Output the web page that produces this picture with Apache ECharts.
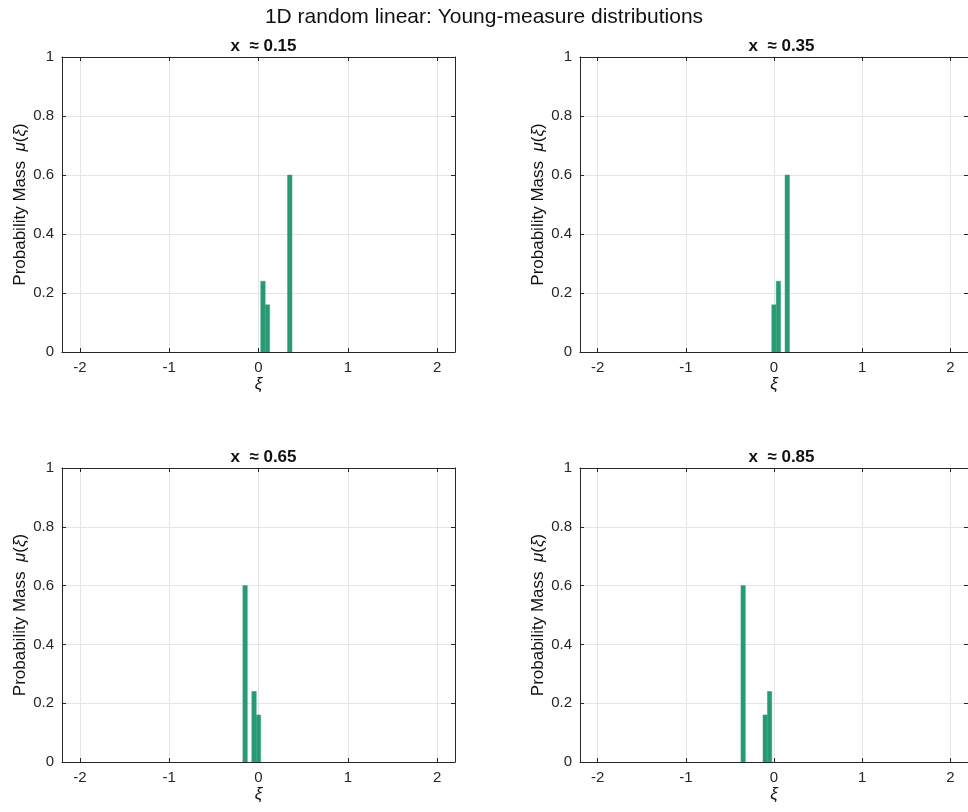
<!DOCTYPE html>
<html>
<head>
<meta charset="utf-8">
<title>Young-measure distributions</title>
<script src="https://cdn.jsdelivr.net/npm/echarts@6/dist/echarts.min.js"></script>
<style>
  html, body { margin: 0; padding: 0; background: #fff; }
  #main { width: 968px; height: 812px; }
</style>
</head>
<body>
<div id="main"></div>
<script>
'use strict';
// panel titles (x position of each slice)
var panelTitles = ['x  \u2248 0.15', 'x  \u2248 0.35', 'x  \u2248 0.65', 'x  \u2248 0.85'];
// bin centres (xi) and probability mass for each panel, bin width 0.05
var xi1 = [0.05, 0.10, 0.35];
var mass1 = [0.24, 0.16, 0.60];
var xi2 = [0.00, 0.05, 0.15];
var mass2 = [0.16, 0.24, 0.60];
var xi3 = [-0.15, -0.05, 0.00];
var mass3 = [0.60, 0.24, 0.16];
var xi4 = [-0.35, -0.10, -0.05];
var mass4 = [0.60, 0.16, 0.24];
var xTicks = [-2, -1, 0, 1, 2];
var binWidth = 0.05;
var xMin = -2.2, xMax = 2.2;

var panels = [[xi1, mass1], [xi2, mass2], [xi3, mass3], [xi4, mass4]];
var gridPos = [
    {left: 62, top: 57, width: 393, height: 295},
    {left: 580, top: 57, width: 393, height: 295},
    {left: 62, top: 468, width: 393, height: 294},
    {left: 580, top: 468, width: 393, height: 294}
];

var axisColor = '#262626';
var font = 'Liberation Sans, Arial, Helvetica, sans-serif';

var grids = [], xAxes = [], yAxes = [], series = [], titles = [];

titles.push({
    text: '1D random linear: Young-measure distributions',
    left: 'center', top: 2,
    textStyle: {fontFamily: font, fontSize: 21, fontWeight: 'normal', color: '#111'}
});

function renderBar(params, api) {
    var p0 = api.coord([api.value(0) - binWidth / 2, api.value(1)]);
    var p1 = api.coord([api.value(0) + binWidth / 2, 0]);
    return {
        type: 'rect',
        shape: {x: p0[0], y: p0[1], width: p1[0] - p0[0], height: p1[1] - p0[1]},
        style: {fill: '#279A73', stroke: '#3aa582', lineWidth: 0.5}
    };
}

panels.forEach(function (pn, i) {
    var g = gridPos[i];
    grids.push({left: g.left, top: g.top, width: g.width, height: g.height, show: false});
    titles.push({
        text: panelTitles[i],
        left: g.left + g.width / 2, top: g.top - 24, textAlign: 'center',
        textStyle: {fontFamily: font, fontSize: 17, fontWeight: 'bold', color: '#111'}
    });
    var lineStyle = {color: axisColor, width: 1};
    // bottom x axis
    xAxes.push({
        type: 'value', gridIndex: i, min: xMin, max: xMax, position: 'bottom',
        name: '{i|\u03be}', nameLocation: 'middle', nameGap: 18,
        nameTextStyle: {rich: {i: {fontFamily: font, fontSize: 17, fontStyle: 'italic', color: '#111'}}},
        axisLine: {lineStyle: lineStyle, onZero: false},
        axisTick: {inside: true, length: 4, lineStyle: lineStyle, customValues: xTicks},
        axisLabel: {fontFamily: font, fontSize: 15, color: axisColor, margin: 8, customValues: xTicks},
        splitLine: {show: true, lineStyle: {color: '#e5e5e5', width: 1}, customValues: xTicks}
    });
    // top x axis (box)
    xAxes.push({
        type: 'value', gridIndex: i, min: xMin, max: xMax, position: 'top',
        axisLine: {lineStyle: lineStyle, onZero: false},
        axisTick: {inside: true, length: 4, lineStyle: lineStyle, customValues: xTicks},
        axisLabel: {show: false, customValues: xTicks}, splitLine: {show: false}
    });
    yAxes.push({
        type: 'value', gridIndex: i, min: 0, max: 1, interval: 0.2, position: 'left',
        name: '{n|Probability Mass  }{i|\u03bc}{n|(}{i|\u03be}{n|)}',
        nameLocation: 'middle', nameGap: 32, nameRotate: 90,
        nameTextStyle: {rich: {
            n: {fontFamily: font, fontSize: 17, color: '#111'},
            i: {fontFamily: font, fontSize: 17, fontStyle: 'italic', color: '#111'}
        }},
        axisLine: {show: true, lineStyle: lineStyle, onZero: false},
        axisTick: {show: true, inside: true, length: 4, lineStyle: lineStyle},
        axisLabel: {fontFamily: font, fontSize: 15, color: axisColor, margin: 8},
        splitLine: {show: true, lineStyle: {color: '#e5e5e5', width: 1}}
    });
    yAxes.push({
        type: 'value', gridIndex: i, min: 0, max: 1, interval: 0.2, position: 'right',
        axisLine: {show: true, lineStyle: lineStyle, onZero: false},
        axisTick: {show: true, inside: true, length: 4, lineStyle: lineStyle},
        axisLabel: {show: false}, splitLine: {show: false}
    });
    var data = pn[0].map(function (x, k) { return [x, pn[1][k]]; });
    series.push({
        type: 'custom', xAxisIndex: i * 2, yAxisIndex: i * 2,
        renderItem: renderBar, data: data, clip: true, silent: true
    });
});

var chart = echarts.init(document.getElementById('main'), null, {renderer: 'canvas'});
chart.setOption({
    backgroundColor: '#fff',
    animation: false,
    title: titles,
    grid: grids,
    xAxis: xAxes,
    yAxis: yAxes,
    series: series
});
</script>
</body>
</html>
